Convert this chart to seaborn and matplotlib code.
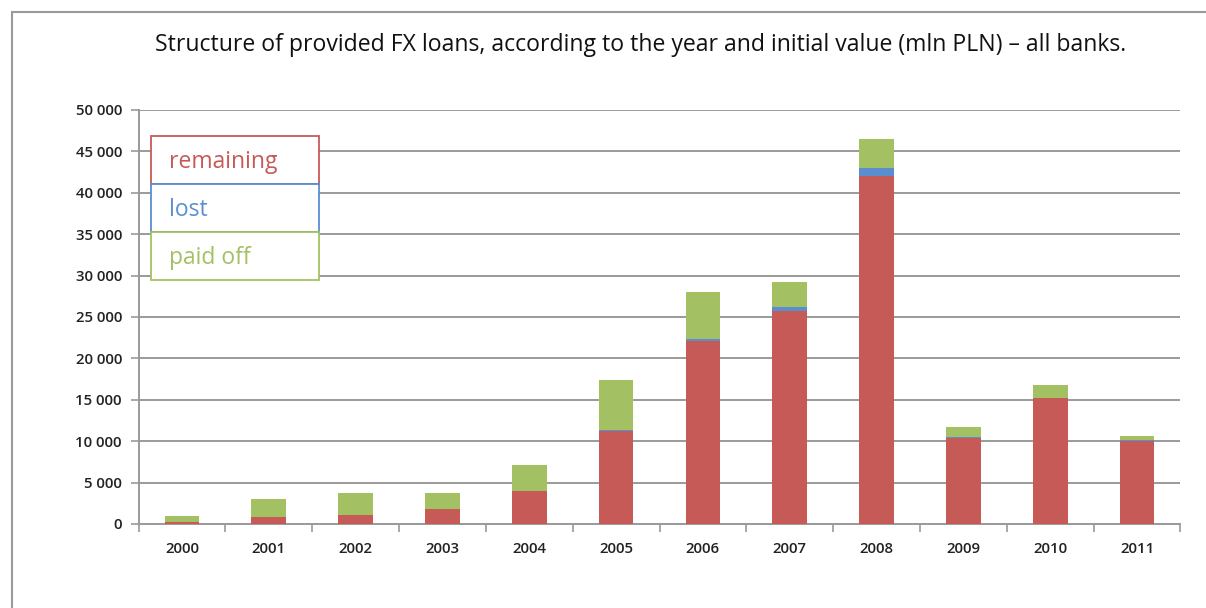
import matplotlib
matplotlib.use("Agg")
import matplotlib.pyplot as plt
import seaborn as sns
import numpy as np
import pandas as pd
from matplotlib.patches import Rectangle
from matplotlib.ticker import FuncFormatter, FixedLocator

years = ["2000", "2001", "2002", "2003", "2004", "2005", "2006", "2007", "2008", "2009", "2010", "2011"]
remaining = [200, 900, 1100, 1850, 3950, 11200, 22100, 25700, 42000, 10400, 15200, 10000]
lost = [0, 0, 0, 0, 50, 200, 300, 450, 1000, 50, 50, 100]
paid_off = [800, 2100, 2700, 1950, 3100, 6000, 5600, 3100, 3500, 1300, 1500, 500]
series_names = ["remaining", "lost", "paid off"]
title = "Structure of provided FX loans, according to the year and initial value (mln PLN) \u2013 all banks."

RED = "#C65A56"
BLUE = "#5B8ED0"
GREEN = "#A3C163"

sns.set_theme(style="white")
plt.rcParams["font.family"] = ["Open Sans", "DejaVu Sans"]

df = pd.DataFrame({"year": years, "remaining": remaining, "lost": lost, "paid_off": paid_off})
df["cum_lost"] = df["remaining"] + df["lost"]
df["total"] = df["cum_lost"] + df["paid_off"]

fig = plt.figure(figsize=(12.06, 6.08), dpi=100)
ax = fig.add_axes([0.1149, 0.1382, 0.8639, 0.6809])

sns.barplot(data=df, x="year", y="total", color=GREEN, width=0.4, saturation=1, ax=ax, linewidth=0, zorder=3)
sns.barplot(data=df, x="year", y="cum_lost", color=BLUE, width=0.4, saturation=1, ax=ax, linewidth=0, zorder=3)
sns.barplot(data=df, x="year", y="remaining", color=RED, width=0.4, saturation=1, ax=ax, linewidth=0, zorder=3)

ax.set_ylim(0, 50000)
ax.set_xlim(-0.5, len(years) - 0.5)
ax.set_yticks(np.arange(0, 50001, 5000))
ax.yaxis.set_major_formatter(FuncFormatter(lambda v, p: f"{int(v):,}".replace(",", " ")))
ax.grid(axis="y", color="#9a9a9a", linewidth=1.4, zorder=0)
ax.set_axisbelow(True)
ax.set_xlabel("")
ax.set_ylabel("")

for s in ["top", "right"]:
    ax.spines[s].set_visible(False)
for s in ["left", "bottom"]:
    ax.spines[s].set_color("#9a9a9a")
    ax.spines[s].set_linewidth(1.4)

ax.tick_params(axis="y", which="major", length=6, width=1.2, color="#9a9a9a", left=True,
               labelsize=10.8, labelcolor="#222222", pad=6)
ax.tick_params(axis="x", which="major", length=0, labelsize=10.8, labelcolor="#222222", pad=13)
ax.xaxis.set_minor_locator(FixedLocator(np.arange(-0.5, len(years), 1.0)))
ax.tick_params(axis="x", which="minor", length=6, width=1.2, color="#9a9a9a", bottom=True)
for lbl in ax.get_yticklabels() + ax.get_xticklabels():
    lbl.set_fontweight("semibold")

fig.text(0.531, 1 - 45 / 608, title, ha="center", va="center", fontsize=16.6, color="#111111")

# legend boxes (figure pixel layout)
W, H = 1206, 608
x0, x1 = 151, 319
tops = [136, 184, 232]
cols = [RED, BLUE, GREEN]
for name, top, c in zip(series_names, tops, cols):
    rect = Rectangle((x0 / W, 1 - (top + 48) / H), (x1 - x0) / W, 48 / H,
                     transform=fig.transFigure, facecolor="white", edgecolor=c,
                     linewidth=1.3, zorder=10)
    fig.add_artist(rect)
    fig.text(169 / W, 1 - (top + 26) / H, name, color=c, fontsize=16.5, ha="left", va="center", zorder=11)

# outer chart border (top and left visible)
border = Rectangle((12 / W, -0.1), 1.5, 1 - 12 / H + 0.1, transform=fig.transFigure,
                   facecolor="none", edgecolor="#9a9a9a", linewidth=1.5, zorder=0)
fig.add_artist(border)

fig.savefig("out.png", dpi=100, facecolor="white")
